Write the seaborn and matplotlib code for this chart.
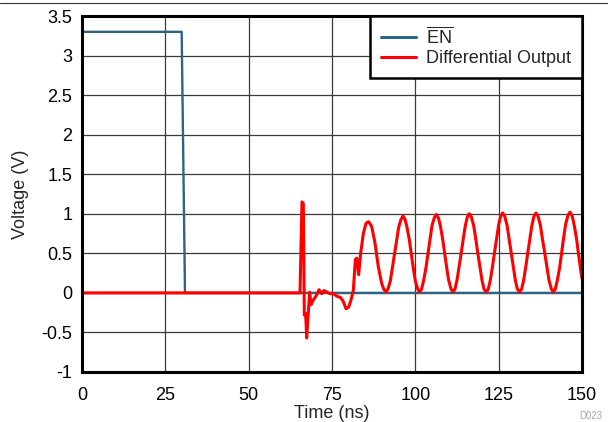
import matplotlib
matplotlib.use("Agg")
import matplotlib.pyplot as plt
from matplotlib.lines import Line2D
import seaborn as sns
import pandas as pd

# ---- data ----
en_time = [0.0, 29.9, 30.9, 150.0]
en_volt = [3.3, 3.3, 0.0, 0.0]

diff_time = [0.0, 65.4, 66.0, 66.4, 66.7, 67.1, 67.4, 67.8, 68.3, 68.7, 69.4,
             70.2, 71.1, 71.9, 72.6, 73.4, 74.4, 75.4, 76.4, 77.6, 78.4, 79.2,
             80.0, 80.7, 81.4, 82.0, 82.4, 83.0, 83.6, 84.4, 85.2, 86.0, 86.9,
             87.9, 88.9, 89.9, 90.5,
             91.2, 91.8, 92.5, 93.1, 93.75, 94.4, 95.0, 95.7, 96.3,
             96.9, 97.5, 98.2, 98.8, 99.4, 100.0, 100.7, 101.3,
             101.9, 102.5, 103.2, 103.8, 104.4, 105.0, 105.7, 106.3,
             106.9, 107.5, 108.2, 108.8, 109.4, 110.0, 110.7, 111.3,
             111.9, 112.5, 113.1, 113.75, 114.4, 115.0, 115.6, 116.2,
             116.8, 117.5, 118.1, 118.75, 119.4, 120.0, 120.6, 121.3,
             121.9, 122.5, 123.1, 123.75, 124.4, 125.0, 125.6, 126.2,
             126.8, 127.5, 128.1, 128.75, 129.4, 130.0, 130.6, 131.3,
             131.9, 132.5, 133.1, 133.75, 134.4, 135.0, 135.6, 136.2,
             136.8, 137.5, 138.1, 138.8, 139.5, 140.1, 140.8, 141.4,
             142.0, 142.6, 143.3, 143.9, 144.5, 145.1, 145.8, 146.4,
             147.0, 147.6, 148.3, 148.9, 149.5, 150.0]
diff_volt = [0.0, 0.0, 1.15, 1.13, -0.28, -0.26, -0.57, -0.32, 0.01, -0.15, -0.09,
             -0.04, 0.04, -0.01, 0.03, 0.01, -0.01, -0.01, -0.04, -0.06, -0.11, -0.20,
             -0.18, -0.09, 0.03, 0.42, 0.44, 0.23, 0.50, 0.75, 0.88, 0.90, 0.84,
             0.63, 0.33, 0.12, 0.05,
             0.01, 0.05, 0.15, 0.31, 0.49, 0.67, 0.83, 0.93, 0.97,
             0.93, 0.83, 0.67, 0.49, 0.31, 0.15, 0.05, 0.01,
             0.05, 0.16, 0.32, 0.50, 0.68, 0.85, 0.95, 0.99,
             0.95, 0.85, 0.68, 0.50, 0.32, 0.16, 0.05, 0.01,
             0.05, 0.16, 0.32, 0.50, 0.69, 0.85, 0.96, 1.00,
             0.96, 0.85, 0.69, 0.50, 0.32, 0.16, 0.05, 0.01,
             0.05, 0.16, 0.32, 0.51, 0.69, 0.86, 0.97, 1.01,
             0.97, 0.86, 0.69, 0.51, 0.32, 0.16, 0.05, 0.01,
             0.05, 0.16, 0.32, 0.51, 0.69, 0.86, 0.97, 1.01,
             0.97, 0.86, 0.69, 0.51, 0.32, 0.16, 0.05, 0.01,
             0.05, 0.16, 0.32, 0.51, 0.70, 0.87, 0.98, 1.02,
             0.98, 0.87, 0.70, 0.51, 0.32, 0.18]

series_names = [r"$\overline{\mathrm{EN}}$", "Differential Output"]
series_colors = ["#2c6482", "#ff0000"]
x_ticks = [0, 25, 50, 75, 100, 125, 150]
y_ticks = [-1, -0.5, 0, 0.5, 1, 1.5, 2, 2.5, 3, 3.5]
y_tick_labels = ["-1", "-0.5", "0", "0.5", "1", "1.5", "2", "2.5", "3", "3.5"]

df = pd.concat([
    pd.DataFrame({"Time": en_time, "Voltage": en_volt, "Signal": series_names[0]}),
    pd.DataFrame({"Time": diff_time, "Voltage": diff_volt, "Signal": series_names[1]}),
], ignore_index=True)

sns.set_style("white")
plt.rcParams["font.family"] = ["Liberation Sans", "DejaVu Sans"]
plt.rcParams["mathtext.fontset"] = "custom"
plt.rcParams["mathtext.rm"] = "Liberation Sans"
plt.rcParams["mathtext.it"] = "Liberation Sans:italic"

FS = 13

fig = plt.figure(figsize=(6.08, 4.22), dpi=100)
ax = fig.add_axes([82 / 608, 1 - 372 / 422, 500 / 608, 356 / 422])

sns.lineplot(data=df, x="Time", y="Voltage", hue="Signal", hue_order=series_names,
             palette=series_colors, sort=False, estimator=None, ax=ax)
for line, lw in zip(ax.get_lines(), [1.7, 2.2]):
    line.set_linewidth(lw)
    line.set_solid_joinstyle("round")

ax.set_xlim(0, 150)
ax.set_ylim(-1, 3.5)
ax.set_xticks(x_ticks)
ax.set_yticks(y_ticks)
ax.set_yticklabels(y_tick_labels)
ax.grid(True, color="#3a3a3a", linewidth=0.9)
ax.set_axisbelow(True)
for s in ax.spines.values():
    s.set_visible(True)
    s.set_color("black")
    s.set_linewidth(2.2)
ax.tick_params(axis="both", length=0, labelsize=FS, colors="black")
ax.tick_params(axis="x", pad=10.5)
ax.tick_params(axis="y", pad=7)
ax.set_xlabel("Time (ns)", fontsize=FS, labelpad=1)
ax.set_ylabel("Voltage (V)", fontsize=FS, labelpad=9)

handles = [Line2D([0], [0], color=c, linewidth=2.2) for c in series_colors]
leg = ax.legend(handles, series_names, loc="upper right", borderaxespad=0,
                fontsize=FS, frameon=True, fancybox=False, handlelength=1.95,
                handletextpad=0.55, labelspacing=0.15, borderpad=0.6)
leg.get_frame().set_edgecolor("black")
leg.get_frame().set_linewidth(1.8)
leg.get_frame().set_alpha(1)

fig.add_artist(Line2D([0, 1], [1 - 3 / 422, 1 - 3 / 422], color="#333333",
                      linewidth=0.8, transform=fig.transFigure))
fig.text(579 / 608, 1 / 422, "D023", fontsize=7, color="#aaaaaa",
         ha="left", va="bottom")

fig.savefig("out.png", dpi=100)
